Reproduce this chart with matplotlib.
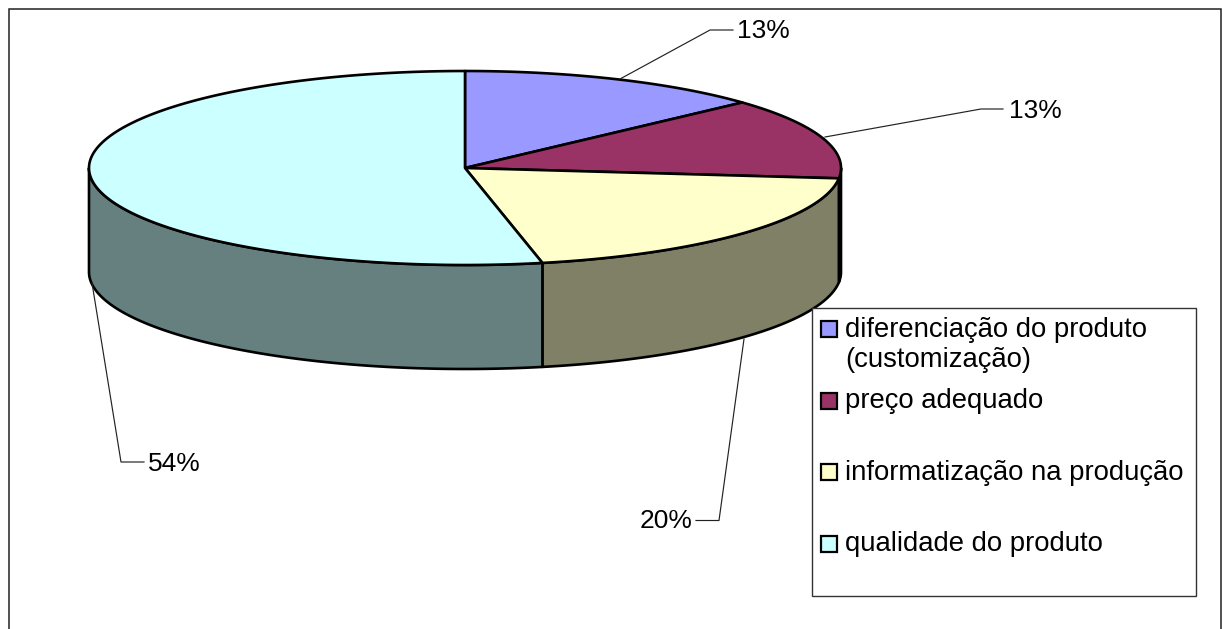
import numpy as np
import matplotlib
matplotlib.use("Agg")
import matplotlib.pyplot as plt
from matplotlib.patches import Polygon, Rectangle

categories = ["diferenciação do produto\n(customização)", "preço adequado",
              "informatização na produção", "qualidade do produto"]
shares = [13.2, 13.5, 20.0, 53.3]
pct_labels = ["13%", "13%", "20%", "54%"]
top_colors = ["#9999FF", "#993366", "#FFFFCC", "#CCFFFF"]
side_colors = ["#666699", "#662244", "#808066", "#668080"]

W, H = 1223, 629
cx, cy, rx, ry, depth = 465, 168, 376, 97, 104

plt.rcParams["font.family"] = ["Liberation Sans", "DejaVu Sans"]
fig = plt.figure(figsize=(W / 100, H / 100), dpi=100)
ax = fig.add_axes([0, 0, 1, 1])
ax.set_xlim(0, W)
ax.set_ylim(H, 0)
ax.axis("off")

edges = 90 - 3.6 * np.concatenate([[0], np.cumsum(shares)])

ax.add_patch(Rectangle((9, 9), 1212, H + 20, fc="white", ec="#222222", lw=1.1, zorder=0))

# side walls (only the front half of the rim is visible)
for i in range(len(shares)):
    a0, a1 = edges[i + 1], edges[i]
    lo, hi = max(a0, -180), min(a1, 0)
    if hi <= lo:
        continue
    th = np.linspace(lo, hi, 120)
    x = cx + rx * np.cos(np.radians(th))
    y = cy - ry * np.sin(np.radians(th))
    xy = np.vstack([np.c_[x, y], np.c_[x[::-1], y[::-1] + depth]])
    ax.add_patch(Polygon(xy, closed=True, fc=side_colors[i], ec="black", lw=1.9, zorder=2, joinstyle="round"))

# top faces
for i in range(len(shares)):
    th = np.linspace(edges[i + 1], edges[i], 200)
    x = cx + rx * np.cos(np.radians(th))
    y = cy - ry * np.sin(np.radians(th))
    xy = np.vstack([[cx, cy], np.c_[x, y]])
    ax.add_patch(Polygon(xy, closed=True, fc=top_colors[i], ec="black", lw=1.9, zorder=3, joinstyle="round"))

# data labels with leader lines
label_pos = [(737, 31.5), (1009, 110.5), (640, 521.5), (148, 464)]
leaders = [[(620, 79), (710, 30), (733, 30)],
           [(825, 137), (981, 109), (1003, 109)],
           [(744, 339), (719, 520.5), (696, 520.5)],
           [(92, 283), (121, 462), (144, 462)]]
for txt, (lx, ly), seg in zip(pct_labels, label_pos, leaders):
    xs, ys = zip(*seg)
    ax.plot(xs, ys, color="#222222", lw=0.85, zorder=4)
    ax.text(lx, ly, txt, fontsize=19, ha="left", va="center", color="black", zorder=5)

# legend
ax.add_patch(Rectangle((812, 307.5), 384, 288, fc="white", ec="#333333", lw=1, zorder=6))
leg_y = [329, 400.5, 472, 544]
text_y = [345, 401, 473, 544]
for name, c, sy, ty in zip(categories, top_colors, leg_y, text_y):
    ax.add_patch(Rectangle((821, sy - 8), 16, 16, fc=c, ec="black", lw=1.6, zorder=7))
    ax.text(845, ty, name, fontsize=19.8, ha="left", va="center", linespacing=1.17, zorder=7, color="black")

fig.savefig("out.png", dpi=100)
